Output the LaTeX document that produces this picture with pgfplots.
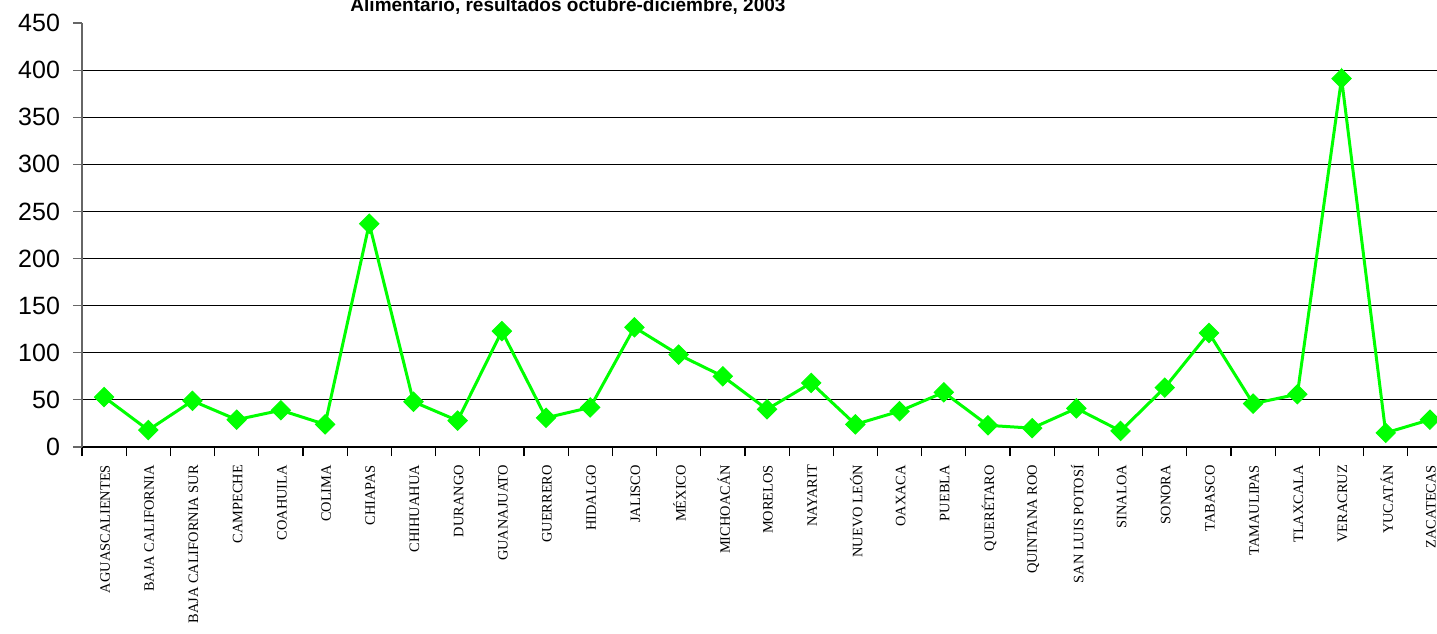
\documentclass[border=0pt]{standalone}
\usepackage{fontspec}
\setmainfont{Liberation Sans}
\newfontfamily\serifcat{Liberation Serif}
\usepackage{pgfplots}
\pgfplotsset{compat=1.18}
\definecolor{lgreen}{RGB}{0,255,0}
\begin{document}
\begin{tikzpicture}
\begin{axis}[
  at={(0,0)}, anchor=south west,
  scale only axis, width=677.5pt, height=212pt,
  xmin=-0.5, xmax=30.16, ymin=0, ymax=450,
  axis lines*=left,
  x axis line style={black, line width=0.6pt},
  y axis line style={black!60, line width=0.8pt},
  tick align=outside,
  ytick={0,50,...,400},
  extra y ticks={450},
  extra y tick style={grid=none},
  ymajorgrids,
  grid style={black, line width=0.5pt},
  major tick length=4.5pt,
  minor tick length=4.5pt,
  y tick style={black!60, line width=0.6pt},
  /pgf/number format/assume math mode=true,
  yticklabel style={font=\fontsize{12.5}{14}\selectfont, xshift=-3pt},
  xtick={0,...,30},
  major x tick style={draw=none},
  minor xtick={-0.5,0.5,...,29.5},
  minor x tick style={black, line width=0.6pt},
  xticklabels={AGUASCALIENTES,BAJA CALIFORNIA,BAJA CALIFORNIA SUR,CAMPECHE,COAHUILA,COLIMA,CHIAPAS,CHIHUAHUA,DURANGO,GUANAJUATO,GUERRERO,HIDALGO,JALISCO,MÉXICO,MICHOACÁN,MORELOS,NAYARIT,NUEVO LEÓN,OAXACA,PUEBLA,QUERÉTARO,QUINTANA ROO,SAN LUIS POTOSÍ,SINALOA,SONORA,TABASCO,TAMAULIPAS,TLAXCALA,VERACRUZ,YUCATÁN,ZACATECAS},
  xticklabel style={rotate=90, anchor=east, font=\serifcat\fontsize{7.2}{8}\selectfont, xshift=-1pt, yshift=-0.5pt},
  clip=false,
]
\addplot[lgreen, line width=1.5pt, mark=square*, mark size=3.4pt, mark options={rotate=45, fill=lgreen, draw=lgreen, line width=0.5pt}] coordinates {
(0,53) (1,18) (2,49) (3,29) (4,39) (5,24) (6,237) (7,48) (8,28) (9,123)
(10,31) (11,42) (12,127) (13,98) (14,75) (15,40) (16,68) (17,24) (18,38) (19,58)
(20,23) (21,20) (22,41) (23,17) (24,63) (25,121) (26,46) (27,56) (28,391) (29,15) (30,29)
};
\end{axis}
\node[font=\bfseries\fontsize{9.5}{11}\selectfont, anchor=base] at (243pt,217.5pt) {Alimentario, resultados octubre-diciembre, 2003};
\pgfresetboundingbox
\path[use as bounding box] (-41pt,-93pt) rectangle (677.5pt,223.5pt);
\end{tikzpicture}
\end{document}
